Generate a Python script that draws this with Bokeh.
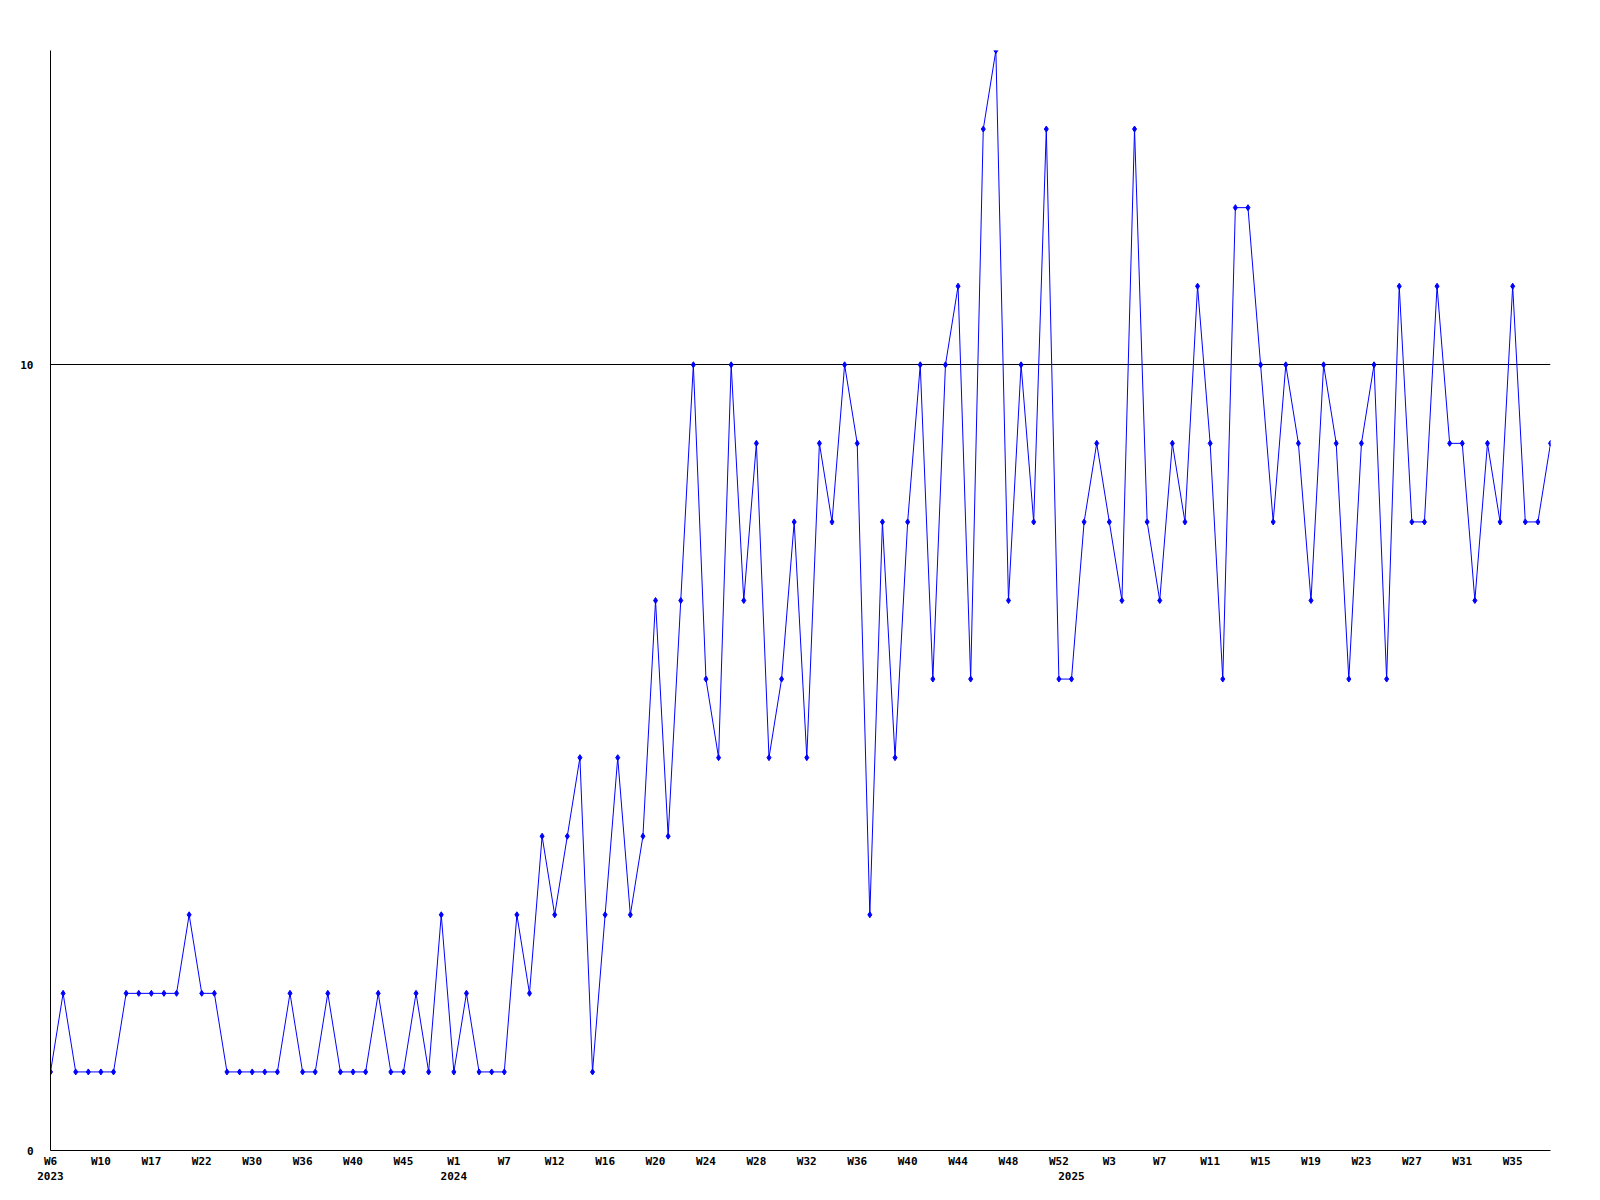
from bokeh.plotting import figure
from bokeh.models import Range1d, FixedTicker, LinearAxis, Grid, ColumnDataSource
from bokeh.embed import file_html
from bokeh.resources import INLINE

# weekly counts, one value per data row (2023 W6 .. 2025 W38)
counts = [1, 2, 1, 1, 1, 1, 2, 2, 2, 2,
          2, 3, 2, 2, 1, 1, 1, 1, 1, 2,
          1, 1, 2, 1, 1, 1, 2, 1, 1, 2,
          1, 3, 1, 2, 1, 1, 1, 3, 2, 4,
          3, 4, 5, 1, 3, 5, 3, 4, 7, 4,
          7, 10, 6, 5, 10, 7, 9, 5, 6, 8,
          5, 9, 8, 10, 9, 3, 8, 5, 8, 10,
          6, 10, 11, 6, 13, 14, 7, 10, 8, 13,
          6, 6, 8, 9, 8, 7, 13, 8, 7, 9,
          8, 11, 9, 6, 12, 12, 10, 8, 10, 9,
          7, 10, 9, 6, 9, 10, 6, 11, 8, 8,
          11, 9, 9, 7, 9, 8, 11, 8, 8, 9]

weeks_2023 = [6, 7, 8, 9, 10, 12, 14, 15, 17, 18, 20, 21, 22, 24, 26, 28,
              30, 32, 33, 35, 36, 37, 38, 39, 40, 41, 42, 44, 45, 47, 49, 51]
weeks_2024 = [1, 2, 4, 5, 7, 8, 9, 11, 12, 13, 14, 15, 16, 17, 18, 19, 20,
              21, 22, 23, 24, 25, 26, 27, 28, 29, 30, 31, 32, 33, 34, 35, 36,
              37, 38, 39, 40, 41, 42, 43, 44, 45, 46, 47, 48, 49, 50, 51, 52]
weeks_2025 = [0, 1, 2, 3, 4, 5, 6, 7, 8, 9, 10, 11, 12, 13, 14, 15, 16, 17,
              18, 19, 20, 21, 22, 23, 24, 25, 26, 27, 28, 29, 30, 31, 32, 33,
              34, 35, 36, 37, 38]
year_names = ["2023", "2024", "2025"]

week_labels = []
point_years = []
for yname, wks in zip(year_names, [weeks_2023, weeks_2024, weeks_2025]):
    for w in wks:
        week_labels.append("W%d" % w)
        point_years.append(yname)

xs = list(range(len(counts)))
tick_every = 4
week_ticks = xs[::tick_every]
year_ticks = [i for i in xs if i == 0 or point_years[i] != point_years[i - 1]]

FONT = "DejaVu Sans Mono"

p = figure(width=1592, height=1192, output_backend="svg", toolbar_location=None,
           x_range=Range1d(0, len(counts) - 1), y_range=Range1d(0, 14),
           x_axis_type=None, y_axis_type=None,
           min_border_left=50, min_border_right=42,
           min_border_top=50, min_border_bottom=42)
p.outline_line_color = None
p.background_fill_color = "white"
p.border_fill_color = "white"

def style_axis(ax, standoff):
    ax.major_tick_out = 0
    ax.major_tick_in = 0
    ax.minor_tick_out = 0
    ax.minor_tick_in = 0
    ax.major_label_standoff = standoff
    ax.major_label_text_font = FONT
    ax.major_label_text_font_style = "bold"
    ax.major_label_text_font_size = "11px"
    ax.major_label_text_color = "black"
    ax.axis_line_color = "black"
    ax.axis_line_width = 1

yaxis = LinearAxis(ticker=FixedTicker(ticks=[0, 10]),
                   major_label_overrides={0: "0", 10: "10"})
style_axis(yaxis, 17)
p.add_layout(yaxis, "left")

xaxis = LinearAxis(ticker=FixedTicker(ticks=week_ticks),
                   major_label_overrides={i: week_labels[i] for i in week_ticks})
style_axis(xaxis, 4)
p.add_layout(xaxis, "below")

yearaxis = LinearAxis(ticker=FixedTicker(ticks=year_ticks),
                      major_label_overrides={i: point_years[i] for i in year_ticks})
style_axis(yearaxis, 1)
yearaxis.axis_line_color = None
p.add_layout(yearaxis, "below")

p.add_layout(Grid(dimension=1, ticker=FixedTicker(ticks=[10]),
                  grid_line_color="black", grid_line_width=1))

src = ColumnDataSource(dict(x=xs, y=counts, week=week_labels, year=point_years))
p.line("x", "y", source=src, line_color="#0000ff", line_width=1)
p.scatter("x", "y", source=src, marker="diamond", size=6,
          fill_color="#0000ff", line_color="#0000ff")

open("out.html", "w").write(file_html(p, INLINE))
